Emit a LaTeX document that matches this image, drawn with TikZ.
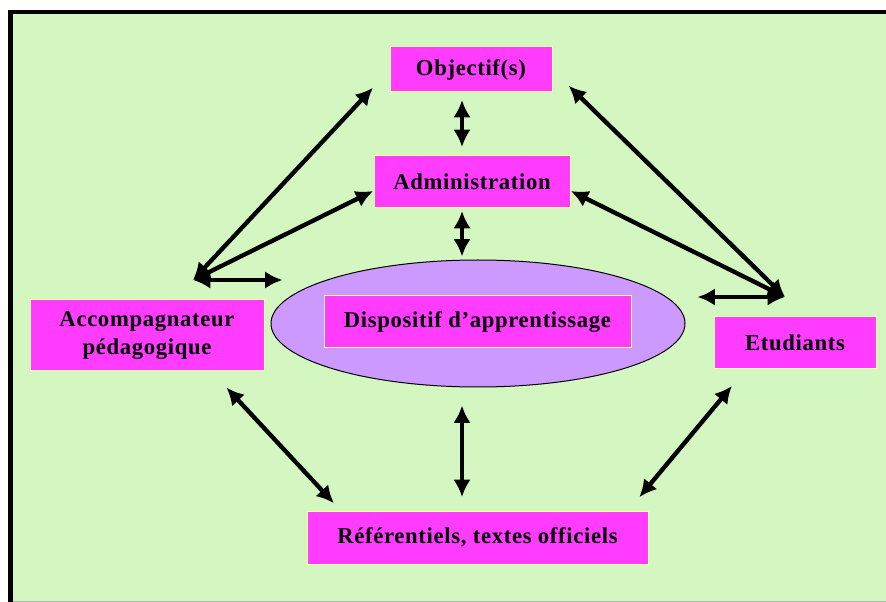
\documentclass[tikz,border=0pt]{standalone}
\usepackage{fontspec}
\setmainfont{Liberation Serif}[Ligatures=NoCommon,LetterSpace=3]
\usetikzlibrary{shapes.geometric,arrows.meta}

\definecolor{pagegreen}{RGB}{212,246,192}
\definecolor{boxpink}{RGB}{255,60,255}
\definecolor{boxedge}{RGB}{255,255,153}
\definecolor{ovallilac}{RGB}{204,153,255}

\tikzset{every picture/.style={line width=0.75pt}}
\tikzset{
  pinkbox/.style={draw=boxedge, fill=boxpink, inner sep=0pt, outer sep=0pt, align=center, font=\fontsize{17}{21}\selectfont\bfseries},
  link/.style={{Latex[length=13pt,width=13pt]}-{Latex[length=13pt,width=13pt]}, line width=3.25pt},
}

\begin{document}
\begin{tikzpicture}[x=0.75pt,y=0.75pt,yscale=-1,xscale=1]
	\useasboundingbox (0,0) rectangle (886,602);

	%Shape: Rectangle (frame)
	\fill [pagegreen] (10.5,12) rectangle (886,602);
	\draw [gray!60] (10.5,601.5) -- (886,601.5);
	\draw [line width=3.5pt] (10.5,602) -- (10.5,12) -- (886,12);

	%Shape: Ellipse
	\node [ellipse, draw=black, fill=ovallilac, minimum width=310.5pt, minimum height=95.25pt, inner sep=0pt] (ell) at (478,323.5) {};

	% Text Nodes
	\node [pinkbox, minimum width=121.5pt, minimum height=33.75pt] (obj) at (471,69.5) {Objectif(s)};
	\node [pinkbox, minimum width=147pt, minimum height=39pt] (admin) at (472,182) {Administration};
	\node [pinkbox, minimum width=230.25pt, minimum height=39pt] (disp) at (477.5,322) {Dispositif d’apprentissage};
	\node [pinkbox, minimum width=175.5pt, minimum height=53.25pt] (acc) at (147,335.5) {Accompagnateur\\pédagogique};
	\node [pinkbox, minimum width=121.5pt, minimum height=39pt] (etu) at (795,343) {Etudiants};
	\node [pinkbox, minimum width=255.75pt, minimum height=39.75pt] (ref) at (477.5,537.5) {Référentiels, textes officiels};

	\coordinate (hubL) at (193,280);
	\coordinate (hubR) at (785,297);
	\coordinate (axis) at (462,0);

	%Straight Lines (middle column)
	\draw [link, shorten <=6pt, shorten >=6.75pt] (obj.south -| axis) -- (admin.north -| axis);
	\draw [link, shorten <=2.25pt, shorten >=2.25pt] (admin.south -| axis) -- (ell.north -| axis);
	\draw [link, shorten <=13.5pt, shorten >=10.5pt] (ell.south -| axis) -- (ref.north -| axis);

	%Straight Lines (left hub)
	\draw [link, shorten >=18.75pt] (hubL) -- (obj.west);
	\draw [link, shorten >=0.75pt] (hubL) -- (admin.185);
	\draw [link, shorten >=-9pt] (hubL) -- (hubL -| ell.west);

	%Straight Lines (right hub)
	\draw [link, shorten >=17.5pt] (hubR) -- (obj.east);
	\draw [link, shorten >=0.75pt] (hubR) -- (admin.-5);
	\draw [link, shorten >=9pt] (hubR) -- (hubR -| ell.east);

	%Straight Lines (bottom)
	\draw [link, shorten <=17pt, shorten >=8pt] (acc.-29) -- (ref.169);
	\draw [link, shorten <=16.5pt, shorten >=13.5pt] (etu.208) -- (ref.10);

\end{tikzpicture}
\end{document}
